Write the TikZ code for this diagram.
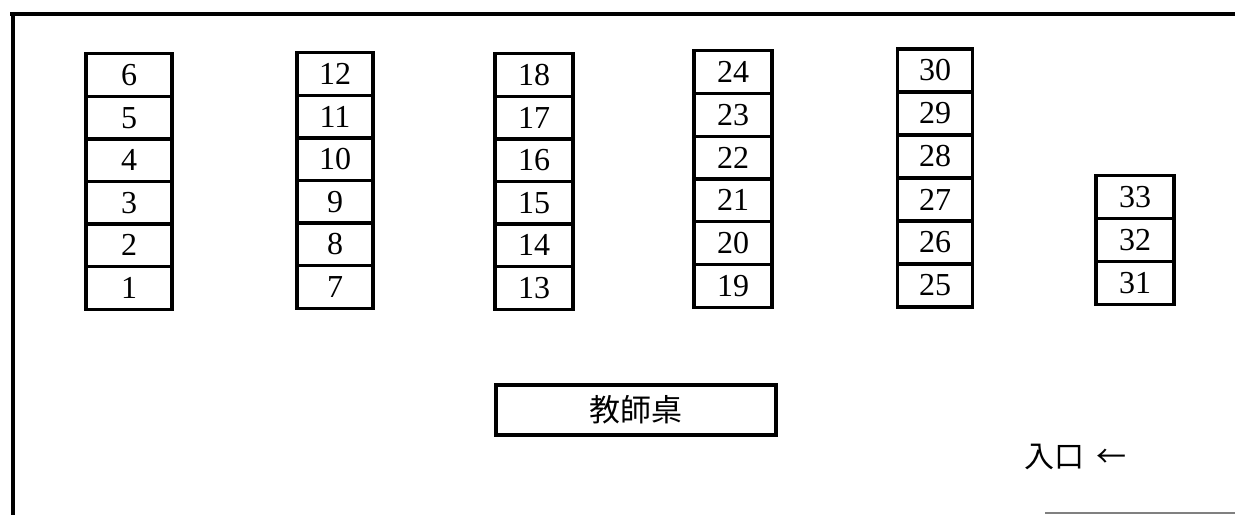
\documentclass[tikz,border=0pt]{standalone}
\usepackage{fontspec}
\setmainfont{Liberation Serif}
\newfontfamily\cjk{Noto Sans CJK TC}
\tikzset{
  seat/.style={draw,line width=3.2pt,minimum width=78pt,minimum height=42.5pt,
    inner sep=0pt,outer sep=0pt,font=\fontsize{32}{34}\selectfont},
  desk/.style={draw,line width=3.2pt,minimum width=280pt,minimum height=50pt,
    inner sep=0pt,font=\cjk\fontsize{31}{34}\selectfont},
  wall/.style={line width=3.2pt}
}
\begin{document}
\begin{tikzpicture}[x=1pt,y=-1pt]
\useasboundingbox (0,0) rectangle (1235,515);

%walls
\coordinate (tl) at (13,14);
\coordinate (tr) at (1235,14);
\coordinate (bl) at (13,515);
\draw[wall] (10,14) -- (tr);
\draw[wall] (tl) -- (bl);
\draw[gray,line width=1.5pt] (1045,513) -- (1235,513);

%column 1
\node[seat,minimum width=86pt] (s6) at (129,75) {6};
\node[seat,minimum width=86pt] (s5) at (129,118) {5};
\node[seat,minimum width=86pt] (s4) at (129,160) {4};
\node[seat,minimum width=86pt] (s3) at (129,203) {3};
\node[seat,minimum width=86pt] (s2) at (129,245) {2};
\node[seat,minimum width=86pt] (s1) at (129,288) {1};
%column 2
\node[seat,minimum width=76pt] (s12) at (335,74) {12};
\node[seat,minimum width=76pt] (s11) at (335,117) {11};
\node[seat,minimum width=76pt] (s10) at (335,159) {10};
\node[seat,minimum width=76pt] (s9) at (335,202) {9};
\node[seat,minimum width=76pt] (s8) at (335,244) {8};
\node[seat,minimum width=76pt] (s7) at (335,287) {7};
%column 3
\node[seat] (s18) at (534,75) {18};
\node[seat] (s17) at (534,118) {17};
\node[seat] (s16) at (534,160) {16};
\node[seat] (s15) at (534,203) {15};
\node[seat] (s14) at (534,245) {14};
\node[seat] (s13) at (534,288) {13};
%column 4
\node[seat] (s24) at (733,72) {24};
\node[seat] (s23) at (733,115) {23};
\node[seat] (s22) at (733,158) {22};
\node[seat] (s21) at (733,200) {21};
\node[seat] (s20) at (733,243) {20};
\node[seat] (s19) at (733,286) {19};
%column 5
\node[seat,minimum width=75pt,minimum height=43pt] (s30) at (935,70.5) {30};
\node[seat,minimum width=75pt,minimum height=43pt] (s29) at (935,113.5) {29};
\node[seat,minimum width=75pt,minimum height=43pt] (s28) at (935,156.5) {28};
\node[seat,minimum width=75pt,minimum height=43pt] (s27) at (935,199.5) {27};
\node[seat,minimum width=75pt,minimum height=43pt] (s26) at (935,242.5) {26};
\node[seat,minimum width=75pt,minimum height=43pt] (s25) at (935,285.5) {25};
%column 6
\node[seat,minimum height=43.3pt] (s33) at (1135,197) {33};
\node[seat,minimum height=43.3pt] (s32) at (1135,240) {32};
\node[seat,minimum height=43.3pt] (s31) at (1135,283) {31};

%teacher desk, door
\node[desk] (desk) at (636,410) {教師桌};
\node[font=\cjk\fontsize{30}{34}\selectfont,inner sep=0pt] (door) at (1075,457) {入口\hspace{12pt}←};

\end{tikzpicture}
\end{document}
